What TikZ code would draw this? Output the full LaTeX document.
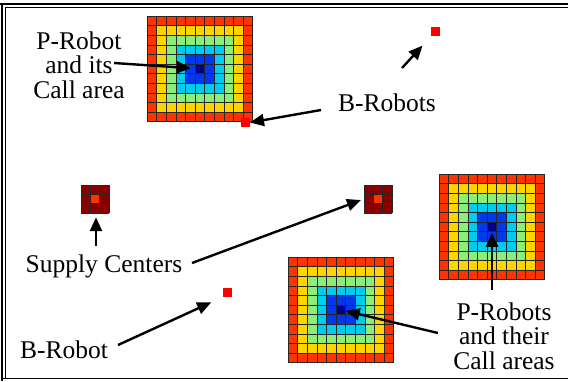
\documentclass[tikz,border=0pt]{standalone}
\usepackage{fontspec}
\setmainfont{Liberation Serif}
\newfontfamily\labelfont{Liberation Serif}
\usetikzlibrary{arrows.meta,positioning}
\definecolor{ring0}{HTML}{FF3300}
\definecolor{ring1}{HTML}{FFD500}
\definecolor{ring2}{HTML}{8CEE78}
\definecolor{ring3}{HTML}{00CCEE}
\definecolor{ring4}{HTML}{0038EE}
\definecolor{ring5}{HTML}{000088}
\definecolor{supplyred}{HTML}{880000}
\tikzset{
    arr/.style={-{Triangle[length=14pt,width=12pt]},line width=2.4pt},
    brobot/.style={fill=red,inner sep=0pt,outer sep=0pt,minimum size=9pt},
    label text/.style={font=\labelfont\fontsize{25.5}{24.5}\selectfont,align=center,inner sep=2pt},
    cellline/.style={black!85,line width=0.6pt},
}
% 11x11 call area, top-left corner at (#2,#3)
\newcommand{\callarea}[3]{%
    \foreach \i in {0,...,10} {\foreach \j in {0,...,10} {
        \pgfmathtruncatemacro{\ring}{min(\i,\j,10-\i,10-\j)}
        \fill[ring\ring] (#2+\i*9.6,#3+\j*9.6) rectangle +(9.6,9.6);
    }}
    \foreach \k in {0,...,11} {
        \draw[cellline] (#2+\k*9.6,#3) -- +(0,105.6);
        \draw[cellline] (#2,#3+\k*9.6) -- +(105.6,0);
    }
    \coordinate (#1) at (#2+52.8,#3+52.8);
}
% 3x3 supply center, top-left corner at (#2,#3)
\newcommand{\supplycenter}[3]{%
    \fill[supplyred] (#2,#3) rectangle +(28,28);
    \fill[ring0] (#2+9.33,#3+9.33) rectangle +(9.33,9.33);
    \foreach \k in {0,...,3} {
        \draw[cellline] (#2+\k*9.33,#3) -- +(0,28);
        \draw[cellline] (#2,#3+\k*9.33) -- +(28,0);
    }
    \node[inner sep=0pt,minimum size=28pt] (#1) at (#2+14,#3+14) {};
}

\begin{document}
\begin{tikzpicture}[x=1pt,y=-1pt]
    \useasboundingbox[fill=white] (0,0) rectangle (568,381);
    % frame
    \draw[line width=2.5pt] (0,4) -- (568,4);
    \draw[line width=2pt] (1.5,3) -- (1.5,381);
    \draw[line width=0.9pt] (5.5,378.5) -- (5.5,7.5) -- (568,7.5);
    \draw[line width=0.9pt] (1.5,378.5) -- (568,378.5);

    % call areas and supply centers
    \callarea{pr1}{147}{16}
    \callarea{pr2}{288}{257}
    \callarea{pr3}{439}{174}
    \supplycenter{sc1}{81}{185}
    \supplycenter{sc2}{364}{185}

    % B-robots
    \node[brobot] (b1) at (435.5,31.5) {};
    \node[brobot] (b2) at (245.5,122.5) {};
    \node[brobot] (b3) at (227.5,292.5) {};

    % labels
    \node[label text] (pr) at (79,65) {P-Robot\\and its\\Call area};
    \node[label text] (brs) at (387,103) {B-Robots};
    \node[label text] (sc) at (104,266) {Supply Centers};
    \node[label text] (br) at (64,349.5) {B-Robot};
    \node[label text] (prs) at (504,336) {P-Robots\\and their\\Call areas};

    % arrow tails
    \coordinate (t1) at (114,63);
    \coordinate (t2) at (321,110);
    \coordinate (t3) at (402,68);
    \coordinate (t4) at (96,246);
    \coordinate (t5) at (192,263);
    \coordinate (t6) at (118,345);
    \coordinate (t7) at (438,333);
    \coordinate (t8) at (492,290);

    \draw[arr,shorten >=9pt] (t1) -- (pr1);
    \draw[arr] (t2) -- (b2.east);
    \draw[arr,shorten >=13pt] (t3) -- (b1);
    \draw[arr,shorten >=4pt] (t4) -- (t4 |- sc1.south);
    \draw[arr,shorten >=3pt] (t5) -- (sc2.west);
    \draw[arr,shorten >=13pt] (t6) -- (b3.south west);
    \draw[arr,shorten >=5pt] (t7) -- (pr2);
    \draw[arr,shorten >=6pt] (t8) -- (t8 |- pr3);
\end{tikzpicture}
\end{document}
